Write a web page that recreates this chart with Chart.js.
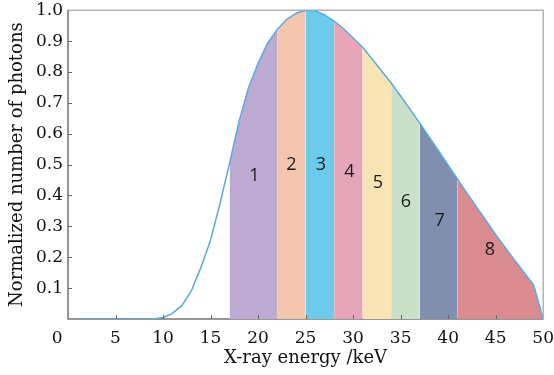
<!DOCTYPE html>
<html>
<head>
<meta charset="utf-8">
<script src="https://cdn.jsdelivr.net/npm/chart.js@4.4.1/dist/chart.umd.min.js"></script>
<style>
html,body{margin:0;padding:0;background:#fff;}
#wrap{width:554px;height:375px;}
</style>
</head>
<body>
<div id="wrap"><canvas id="c" width="554" height="375"></canvas></div>
<script>
// ---- data ----
const energies = [1,2,3,4,5,6,7,8,9,10,11,12,13,14,15,16,17,18,19,20,21,22,23,24,25,26,27,28,29,30,31,32,33,34,35,36,37,38,39,40,41,42,43,44,45,46,47,48,49,50];
const photons  = [0,0,0,0,0,0,0,0,0,0.005,0.018,0.044,0.093,0.168,0.255,0.375,0.505,0.64,0.75,0.828,0.893,0.937,0.97,0.99,1.0,0.998,0.985,0.965,0.94,0.91,0.88,0.842,0.803,0.764,0.722,0.679,0.635,0.59,0.544,0.498,0.452,0.407,0.362,0.318,0.273,0.232,0.19,0.15,0.11,0.0];
const bandEdges = [17,22,25,28,31,34,37,41,50];
const bandNames = ['1','2','3','4','5','6','7','8'];
const bandColors = ['#bcaad3','#f4c6ae','#6ccbea','#e7a5b9','#f9e4b5','#c9e1c8','#7f8fad','#d98b90'];
const labelX = [19.6,23.5,26.6,29.6,32.6,35.55,39.1,44.4];
const labelY = [0.464,0.50,0.50,0.478,0.44,0.378,0.319,0.224];
const xTicks = [0,5,10,15,20,25,30,35,40,45,50];
const yTicks = [0.1,0.2,0.3,0.4,0.5,0.6,0.7,0.8,0.9,1.0];

const curvePts = energies.map((e,i)=>({x:e,y:photons[i]}));
const datasets = [{
  label:'spectrum',
  data:curvePts,
  borderColor:'#5aaadf',
  borderWidth:1.5,
  pointRadius:0,
  tension:0,
  fill:false,
  order:0
}];
for(let b=0;b<bandNames.length;b++){
  const lo=bandEdges[b], hi=bandEdges[b+1];
  datasets.push({
    label:'band '+bandNames[b],
    data:curvePts.filter(p=>p.x>=lo && p.x<=hi),
    borderWidth:0,
    borderColor:'rgba(0,0,0,0)',
    backgroundColor:bandColors[b],
    pointRadius:0,
    tension:0,
    fill:'origin',
    order:1
  });
}

const overlay = {
  id:'overlay',
  beforeDatasetsDraw(chart){
    const {ctx, chartArea:a} = chart;
    ctx.save();
    ctx.strokeStyle = '#a0a0a0';
    ctx.lineWidth = 1.2;
    ctx.strokeRect(a.left, a.top, a.right-a.left, a.bottom-a.top);
    ctx.strokeStyle = '#888';
    ctx.lineWidth = 1.6;
    ctx.beginPath();
    ctx.moveTo(a.left, a.top); ctx.lineTo(a.left, a.bottom); ctx.lineTo(a.right, a.bottom);
    ctx.stroke();
    ctx.restore();
  },
  afterDatasetsDraw(chart){
    const {ctx, chartArea:a, scales:{x,y}} = chart;
    ctx.save();
    ctx.font = '18px "Open Sans"';
    ctx.fillStyle = '#1a1a1a';
    ctx.textAlign = 'center';
    ctx.textBaseline = 'middle';
    bandNames.forEach((n,i)=>ctx.fillText(n, x.getPixelForValue(labelX[i]), y.getPixelForValue(labelY[i])));
    // inner tick marks
    ctx.lineWidth = 1;
    ctx.strokeStyle = '#666';
    ctx.beginPath();
    xTicks.forEach(v=>{ if(v>0 && v<50){ const px=Math.round(x.getPixelForValue(v))+0.5; ctx.moveTo(px,a.bottom); ctx.lineTo(px,a.bottom-4);} });
    yTicks.forEach(v=>{ if(v<1){ const py=Math.round(y.getPixelForValue(v))+0.5; ctx.moveTo(a.left,py); ctx.lineTo(a.left+4,py);} });
    ctx.stroke();
    ctx.restore();
  }
};

new Chart(document.getElementById('c'),{
  type:'line',
  data:{datasets},
  options:{
    responsive:false,
    animation:false,
    layout:{padding:0},
    plugins:{legend:{display:false},tooltip:{enabled:false}},
    scales:{
      x:{
        type:'linear', min:0, max:50,
        afterFit(s){ s.height = 56; },
        grid:{display:false, drawTicks:true, tickLength:9},
        border:{display:false},
        afterBuildTicks(s){ s.ticks = xTicks.map(v=>({value:v})); },
        ticks:{
          padding:0,
          color:'#111',
          font:{family:'"DejaVu Serif"', size:17},
          maxRotation:0,
          autoSkip:false,
          callback:(v)=> v===0 ? '0    ' : String(v)
        },
        title:{display:true, text:'X-ray energy /keV', color:'#111',
          font:{family:'"DejaVu Serif"', size:18, lineHeight:1.2}, padding:{top:0,bottom:6}}
      },
      y:{
        type:'linear', min:0, max:1.0,
        afterFit(s){ s.width = 68; },
        grid:{display:false, drawTicks:true, tickLength:5},
        border:{display:false},
        afterBuildTicks(s){ s.ticks = yTicks.map(v=>({value:v})); },
        ticks:{
          padding:0,
          color:'#111',
          font:{family:'"DejaVu Serif"', size:17},
          autoSkip:false,
          callback:(v)=> v.toFixed(1)
        },
        title:{display:true, text:'Normalized number of photons', color:'#111',
          font:{family:'"DejaVu Serif"', size:18, lineHeight:1.2}, padding:{top:7,bottom:0}}
      }
    }
  },
  plugins:[overlay]
});
</script>
</body>
</html>
